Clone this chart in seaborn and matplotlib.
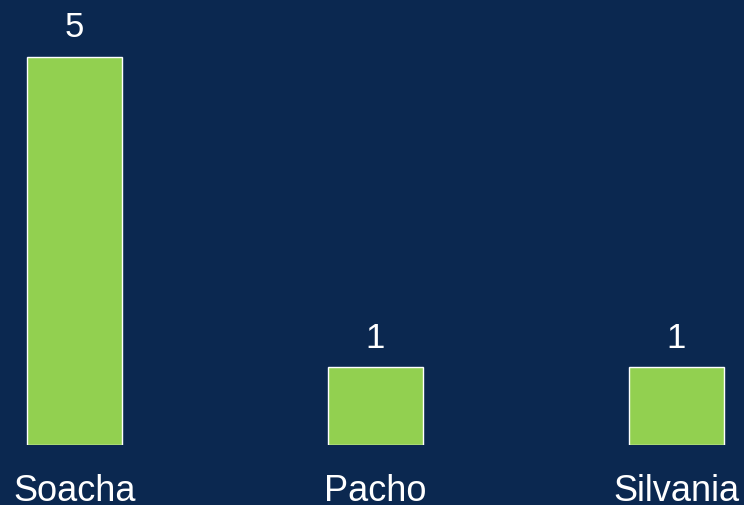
import matplotlib
matplotlib.use("Agg")
import matplotlib.pyplot as plt
import seaborn as sns
import pandas as pd

categories = ["Soacha", "Pacho", "Silvania"]
values = [5, 1, 1]

bg = "#0B2850"
green = "#92D050"

sns.set_theme(style="white")
plt.rcParams['font.family'] = ['Liberation Sans', 'DejaVu Sans']

fig = plt.figure(figsize=(7.44, 5.06), dpi=100, facecolor=bg)
ax = fig.add_axes([0, (506 - 446) / 506, 1, 446 / 506])
ax.set_facecolor(bg)

df = pd.DataFrame({"cat": categories, "val": values})
sns.barplot(data=df, x="cat", y="val", color=green, saturation=1, width=0.316,
            edgecolor="white", linewidth=1, ax=ax)

unit = 77.6
ax.set_xlim(-74.5 / 301, (744 - 74.5) / 301)
ax.set_ylim(0, 446 / unit)

for i, v in enumerate(values):
    ax.annotate(str(v), (i, v), xytext=(0, 10), textcoords="offset points",
                ha="center", va="bottom", color="white", fontsize=25)

ax.set_xlabel("")
ax.set_ylabel("")
ax.set_yticks([])
ax.tick_params(axis="x", length=0, pad=20, labelsize=26, labelcolor="white")
for s in ax.spines.values():
    s.set_visible(False)

fig.savefig("out.png", dpi=100, facecolor=bg)
